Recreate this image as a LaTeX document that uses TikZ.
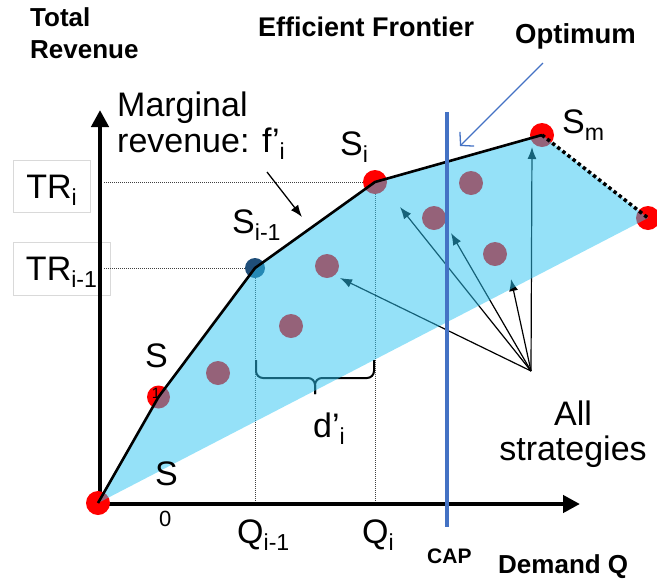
\documentclass[tikz,border=0pt]{standalone}
\usepackage{fontspec}
\setmainfont{Liberation Sans}
\usetikzlibrary{arrows.meta}
\definecolor{regfill}{RGB}{44,196,242}
\definecolor{capblue}{RGB}{68,114,196}
\definecolor{dotblue}{RGB}{31,78,121}
\newcommand\lsub[1]{\raisebox{-0.22em}{\scalebox{0.68}{#1}}}
\begin{document}
\begin{tikzpicture}[x=1pt,y=-1pt,
  bigtxt/.style={font=\fontsize{34}{40}\selectfont, inner sep=0pt, anchor=base west},
  boldtxt/.style={font=\bfseries\fontsize{26}{31}\selectfont, inner sep=0pt, anchor=base west},
  guide/.style={densely dotted, line width=1pt, black!75},
  strat/.style={line width=1.2pt, -{Latex[length=12pt,width=9pt]}},
  axisline/.style={line width=4.5pt, -{Triangle[length=17pt,width=17pt]}},
  reddot/.style={circle, fill=red, minimum size=24pt, inner sep=0pt},
  trbox/.style={draw=black!15, line width=0.8pt, fill=white, inner sep=0pt,
    font=\fontsize{34}{40}\selectfont, text height=24pt, text depth=0pt}
]
\useasboundingbox (0,0) rectangle (657,582);

% key points
\coordinate (O) at (98,503);
\coordinate (S1) at (158.5,397);
\coordinate (Sim) at (255,268);
\coordinate (Si) at (375,182);
\coordinate (Sm) at (542,135);
\coordinate (Sr) at (648,218);
\coordinate (ax0) at (100,504);
\coordinate (ytip) at (100,110);
\coordinate (xtip) at (580,504);

% value boxes
\node[trbox, minimum width=77pt, minimum height=52pt] (TRi) at (51.5,186) {TR\lsub{i}};
\node[trbox, minimum width=97pt, minimum height=53pt] (TRim) at (61.5,268.5) {TR\lsub{i-1}};

% guides
\coordinate (gTRi) at (104,182);
\coordinate (gTRim) at (104,268);
\draw[guide] (gTRi) -- (Si);
\draw[guide] (gTRim) -- (Sim);
\draw[guide] (Sim) -- (Sim |- ax0);
\draw[guide] (Si) -- (Si |- ax0);

% axes
\draw[axisline] (ax0) -- (ytip);
\draw[axisline] (ax0) -- (xtip);

% strategy arrows
\coordinate (src) at (531,371);
\coordinate (a1) at (340,278);
\coordinate (a2) at (400,207);
\coordinate (a3) at (451,233);
\coordinate (a4) at (511,279);
\coordinate (a5) at (532,147);
\foreach \t in {a1,a2,a3,a4,a5} \draw[strat] (src) -- (\t);

% brace
\coordinate (bl) at (256,360);
\coordinate (br) at (374,360);
\coordinate (bmid) at (315,378);
\coordinate (btip) at (315,394);
\draw[line width=2pt, rounded corners=7pt] (bl) |- (bmid) -- (btip);
\draw[line width=2pt, rounded corners=7pt] (br) |- (bmid) -- (btip);

% dots
\node[reddot] (d0) at (O) {};
\node[reddot, minimum size=23pt] (d1) at (S1) {};
\node[reddot] (di) at (Si) {};
\node[reddot] (dm) at (Sm) {};
\node[reddot] (dr) at (Sr) {};
\node[circle, fill=dotblue, minimum size=20pt, inner sep=0pt] (dim) at (Sim) {};
\node[reddot] (p1) at (218,373) {};
\node[reddot] (p2) at (291,326) {};
\node[reddot] (p3) at (327,266) {};
\node[reddot] (p4) at (434,218) {};
\node[reddot] (p5) at (471,183) {};
\node[reddot] (p6) at (495,254) {};

% region of all strategies
\fill[regfill, fill opacity=0.5] (O) -- (S1) -- (Sim) -- (Si) -- (Sm) -- (Sr) -- cycle;

% efficient frontier
\draw[line width=2.6pt, line join=round] (O) -- (S1) -- (Sim) -- (Si) -- (Sm);
\draw[line width=3.5pt, dash pattern=on 3.5pt off 3pt] (Sm) -- (Sr);

% CAP line
\coordinate (captop) at (447,112);
\coordinate (capbot) at (447,527);
\draw[capblue, line width=4pt] (captop) -- (capbot);

% labels
\node[boldtxt, font=\bfseries\fontsize{26}{30}\selectfont] (total) at (30,26) {Total};
\node[boldtxt, font=\bfseries\fontsize{26}{30}\selectfont] (revenue) at (30,58) {Revenue};
\node[boldtxt, font=\bfseries\fontsize{27}{32}\selectfont] (eff) at (258,36) {Efficient Frontier};
\node[boldtxt, font=\bfseries\fontsize{27.5}{32}\selectfont] (opt) at (515,43) {Optimum};
\node[bigtxt] (marg) at (117,116) {Marginal};
\node[bigtxt] (rev) at (117,152) {revenue: f’\lsub{i}};
\node[bigtxt] (lSim) at (232,233) {S\lsub{i-1}};
\node[bigtxt] (lSi) at (340,155) {S\lsub{i}};
\node[bigtxt] (lSm) at (562,133) {S\lsub{m}};
\node[bigtxt] (lS1) at (145,367) {S};
\node[font=\fontsize{15}{17}\selectfont, inner sep=0pt] (one) at (156,393) {1};
\node[bigtxt] (lS0) at (155,485) {S};
\node[bigtxt, font=\fontsize{22}{26}\selectfont] (zero) at (159,526) {0};
\node[bigtxt] (lQim) at (237,543) {Q\lsub{i-1}};
\node[bigtxt] (lQi) at (362,543) {Q\lsub{i}};
\node[boldtxt, font=\bfseries\fontsize{21}{25}\selectfont] (cap) at (427,563) {CAP};
\node[boldtxt] (dem) at (498,573) {Demand Q};
\node[bigtxt, anchor=base] (all) at (573,425) {All};
\node[bigtxt, anchor=base] (strats) at (573,460) {strategies};
\node[bigtxt] (dlab) at (313,437) {d’\lsub{i}};

% pointers
\coordinate (fstart) at (267,172);
\coordinate (ftip) at (302,217);
\draw[line width=1.3pt, -{Latex[length=12pt,width=9pt]}] (fstart) -- (ftip);
\coordinate (ostart) at (543,63);
\coordinate (otip) at (460,146);
\draw[capblue, line width=1.3pt, -{Straight Barb[length=9pt,width=20pt,line width=1.3pt]}] (ostart) -- (otip);
\end{tikzpicture}
\end{document}
